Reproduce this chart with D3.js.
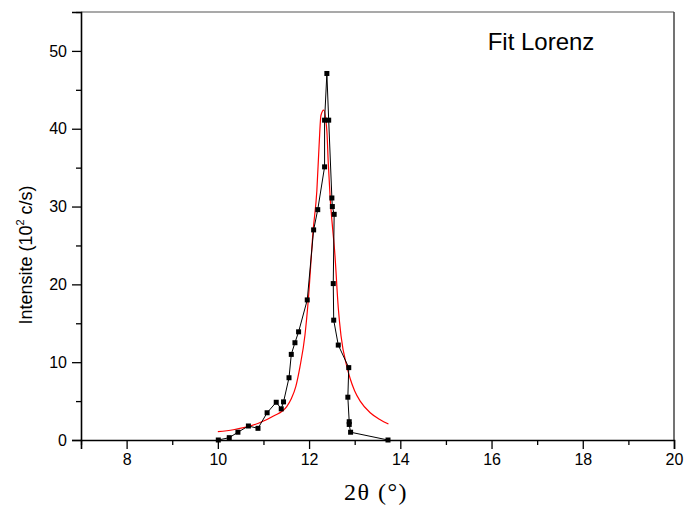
<!DOCTYPE html>
<html><head><meta charset="utf-8">
<script src="https://cdn.jsdelivr.net/npm/d3@7"></script>
<style>body{margin:0;background:#fff}svg{display:block}</style>
</head><body>
<svg id="chart" width="686" height="508"></svg>
<script>
// measured data (2θ in degrees, intensity in 10^2 c/s)
const dataX = [10.01,10.25,10.44,10.67,10.88,11.08,11.28,11.39,11.44,11.56,11.61,11.69,11.77,11.96,12.10,12.19,12.34,12.34,12.39,12.43,12.50,12.51,12.55,12.53,12.54,12.64,12.87,12.85,12.88,12.88,12.91,13.73];
const dataY = [0,0.3,1.0,1.8,1.5,3.5,4.85,4.0,4.9,8.0,11.0,12.5,13.9,18.0,27.0,29.6,35.1,41.1,47.1,41.1,31.1,30.0,29.0,20.1,15.4,12.2,9.3,5.5,2.35,2.0,1.0,0];
// Lorentz fit curve
const fitX = [10.0,10.34,10.89,11.22,11.51,11.61,11.71,11.80,11.91,11.98,12.09,12.17,12.22,12.26,12.32,12.39,12.42,12.46,12.57,12.64,12.70,12.83,12.90,13.00,13.12,13.34,13.56,13.74];
const fitY = [1.07,1.32,2.15,3.08,4.3,5.3,6.9,9.4,13.5,17.8,27.0,32.0,37.9,41.7,42.4,39.7,35.7,31.4,23.5,17.0,13.4,9.4,7.9,6.3,5.0,3.5,2.6,2.05];
const xMajor = [8,10,12,14,16,18,20];
const xMinor = [7,9,11,13,15,17,19];
const yMajor = [0,10,20,30,40,50];
const yMinor = [5,15,25,35,45,55];

const svg = d3.select("#chart");
const L = 81, R = 674, T = 12, B = 440;
const x = d3.scaleLinear().domain([7,20]).range([L,R]);
const y = d3.scaleLinear().domain([0,55]).range([B,T]);

// frame (top & right)
svg.append("line").attr("x1",L).attr("x2",R).attr("y1",T).attr("y2",T).attr("stroke","#555").attr("stroke-width",1.2);
svg.append("line").attr("x1",R).attr("x2",R).attr("y1",T).attr("y2",B).attr("stroke","#444").attr("stroke-width",1.5);

// axes
const xAx = svg.append("g").attr("transform",`translate(0,${B})`)
  .call(d3.axisBottom(x).tickValues(xMajor).tickSize(9).tickPadding(5).tickFormat(d3.format("d")));
const xAxMin = svg.append("g").attr("transform",`translate(0,${B})`)
  .call(d3.axisBottom(x).tickValues(xMinor).tickSize(5).tickFormat(""));
const yAx = svg.append("g").attr("transform",`translate(${L},0)`)
  .call(d3.axisLeft(y).tickValues(yMajor).tickSize(9).tickPadding(5).tickFormat(d3.format("d")));
const yAxMin = svg.append("g").attr("transform",`translate(${L},0)`)
  .call(d3.axisLeft(y).tickValues(yMinor).tickSize(5).tickFormat(""));
[xAx,xAxMin,yAx,yAxMin].forEach(g=>{
  g.select(".domain").attr("stroke","#000").attr("stroke-width",1.6);
  g.selectAll(".tick line").attr("stroke","#000").attr("stroke-width",1.3);
  g.selectAll("text").attr("font-family","Liberation Sans, Arial, sans-serif").attr("font-size",16).attr("fill","#000");
});
xAxMin.select(".domain").remove(); yAxMin.select(".domain").remove();

// Lorentz fit (red)
const fit = fitX.map((v,i)=>[v,fitY[i]]);
svg.append("path").datum(fit)
  .attr("fill","none").attr("stroke","#ff0000").attr("stroke-width",1.2)
  .attr("d", d3.line().x(d=>x(d[0])).y(d=>y(d[1])).curve(d3.curveMonotoneX));

// data line + markers
const pts = dataX.map((v,i)=>[v,dataY[i]]);
svg.append("path").datum(pts)
  .attr("fill","none").attr("stroke","#000").attr("stroke-width",1)
  .attr("d", d3.line().x(d=>x(d[0])).y(d=>y(d[1])));
svg.append("g").selectAll("rect").data(pts).join("rect")
  .attr("x",d=>x(d[0])-2.5).attr("y",d=>y(d[1])-2.5)
  .attr("width",5).attr("height",5).attr("fill","#000");

// labels
svg.append("text").attr("x",541).attr("y",50).attr("text-anchor","middle")
  .attr("font-family","Liberation Sans, Arial, sans-serif").attr("font-size",24).text("Fit Lorenz");

svg.append("text").attr("x",376).attr("y",500).attr("text-anchor","middle")
  .attr("font-family","Liberation Serif, Times New Roman, serif").attr("font-size",24)
  .attr("letter-spacing",1.5)
  .text("2θ (°)");

const yl = svg.append("text").attr("transform","translate(32,255) rotate(-90)").attr("text-anchor","middle")
  .attr("font-family","Liberation Sans, Arial, sans-serif").attr("font-size",18);
yl.append("tspan").text("Intensite (10");
yl.append("tspan").attr("font-size",11).attr("dy",-8).text("2");
yl.append("tspan").attr("dy",8).text(" c/s)");
</script>
</body></html>
